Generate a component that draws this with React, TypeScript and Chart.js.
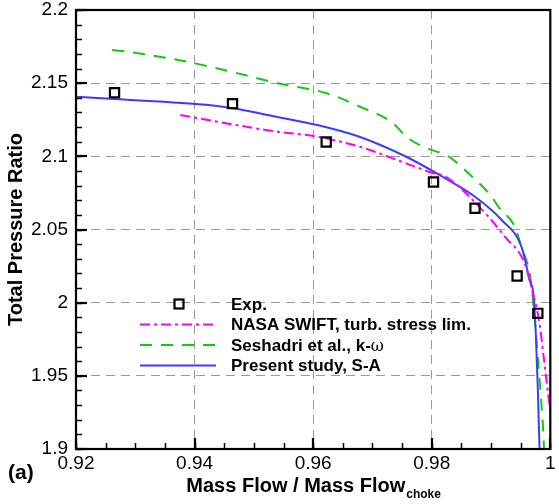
import React, { useEffect, useRef } from "react";
import { Chart, registerables } from "chart.js";

Chart.register(...registerables);

// ---- Data ----
const expX = [0.9265, 0.9464, 0.9622, 0.9803, 0.9873, 0.9944, 0.9979];
const expY = [2.1435, 2.136, 2.1098, 2.0825, 2.0645, 2.0182, 1.9927];

const swiftX = [0.9376, 0.954, 0.96, 0.9678, 0.9757, 0.98, 0.98233, 0.989, 0.99233, 0.99567, 0.99705, 0.99817, 0.999, 0.99955, 1.0002];
const swiftY = [2.1282, 2.1168, 2.1139, 2.1066, 2.0952, 2.0888, 2.0861, 2.0613, 2.0451, 2.0269, 2.0066, 1.9861, 1.9588, 1.9403, 1.92];

const seshX = [0.9261, 0.9295, 0.9395, 0.9462, 0.954, 0.9623, 0.9679, 0.9735, 0.9757, 0.9785, 0.9829, 0.9862, 0.9901, 0.99122, 0.994, 0.99512, 0.99678, 0.99788, 0.99845, 0.9989, 0.999];
const seshY = [2.1727, 2.1711, 2.164, 2.1578, 2.1499, 2.1431, 2.1339, 2.1226, 2.1134, 2.1066, 2.0997, 2.0884, 2.0724, 2.0656, 2.0519, 2.0382, 2.0132, 1.9631, 1.9335, 1.9039, 1.89];

const saX = [0.92, 0.9265, 0.9423, 0.9462, 0.954, 0.9607, 0.9678, 0.9757, 0.9818, 0.9873, 0.9918, 0.9952, 0.9965, 0.9972, 0.9976, 0.9979, 0.99825];
const saY = [2.1408, 2.1392, 2.1351, 2.133, 2.1269, 2.1214, 2.1134, 2.0997, 2.0861, 2.0724, 2.0565, 2.0374, 2.0155, 2.0041, 1.9745, 1.9403, 1.89];

const legendLabels = [
  "Exp.",
  "NASA SWIFT, turb. stress lim.",
  "Seshadri et al., k-",
  "Present study, S-A",
];

const xMin = 0.92, xMax = 1.0, xStep = 0.02, xMinorStep = 0.005;
const yMin = 1.9, yMax = 2.2, yStep = 0.05, yMinorStep = 0.01;

const toPts = (xs: number[], ys: number[]) => xs.map((x, i) => ({ x, y: ys[i] }));

const FONT = "'Liberation Sans', Arial, sans-serif";
const fmt = (v: any) => String(+Number(v).toFixed(4));

const decorPlugin = {
  id: "decor",
  afterDatasetsDraw(chart: any) {
    const { ctx, chartArea: a, scales } = chart;
    const xs = scales.x, ys = scales.y;
    ctx.save();
    ctx.strokeStyle = "#000";
    ctx.setLineDash([]);
    // minor ticks
    ctx.lineWidth = 1.5;
    for (let i = 0; xMin + i * xMinorStep <= xMax + 1e-9; i++) {
      const v = xMin + i * xMinorStep;
      const px = Math.round(xs.getPixelForValue(v)) + 0.5;
      ctx.beginPath(); ctx.moveTo(px, a.bottom); ctx.lineTo(px, a.bottom - 6); ctx.stroke();
    }
    for (let i = 0; yMin + i * yMinorStep <= yMax + 1e-9; i++) {
      const v = yMin + i * yMinorStep;
      const py = Math.round(ys.getPixelForValue(v)) + 0.5;
      ctx.beginPath(); ctx.moveTo(a.left, py); ctx.lineTo(a.left + 6, py); ctx.stroke();
    }
    // major ticks
    ctx.lineWidth = 2.2;
    for (let i = 0; xMin + i * xStep <= xMax + 1e-9; i++) {
      const px = Math.round(xs.getPixelForValue(xMin + i * xStep));
      ctx.beginPath(); ctx.moveTo(px, a.bottom); ctx.lineTo(px, a.bottom - 11); ctx.stroke();
    }
    for (let i = 0; yMin + i * yStep <= yMax + 1e-9; i++) {
      const py = Math.round(ys.getPixelForValue(yMin + i * yStep));
      ctx.beginPath(); ctx.moveTo(a.left, py); ctx.lineTo(a.left + 11, py); ctx.stroke();
    }
    // frame
    ctx.lineWidth = 2.2;
    ctx.strokeRect(a.left, a.top, a.right - a.left, a.bottom - a.top);

    // legend: rows map to datasets Exp, SWIFT, Seshadri, Present
    const ds = chart.data.datasets;
    const rowDs = [0, 1, 3, 2];
    const rowY = [304, 324.5, 345, 365.5];
    const lx0 = 140, lx1 = 216, tx = 231;
    ctx.font = `bold 17px ${FONT}`;
    ctx.textBaseline = "middle";
    ctx.textAlign = "left";
    ctx.fillStyle = "#000";
    const s = 9;
    ctx.lineWidth = ds[0].borderWidth;
    ctx.strokeStyle = ds[0].borderColor;
    ctx.strokeRect(179 - s / 2, rowY[0] - s / 2, s, s);
    for (let k = 1; k < 4; k++) {
      const d = ds[rowDs[k]];
      ctx.strokeStyle = d.borderColor;
      ctx.lineWidth = d.borderWidth;
      ctx.setLineDash(d.borderDash || []);
      ctx.beginPath(); ctx.moveTo(lx0, rowY[k]); ctx.lineTo(lx1, rowY[k]); ctx.stroke();
    }
    ctx.setLineDash([]);
    for (let k = 0; k < 4; k++) {
      ctx.fillText(legendLabels[k], tx, rowY[k] + 1);
    }
    const w = ctx.measureText(legendLabels[2]).width;
    ctx.font = `16px 'DejaVu Serif', 'Liberation Serif', serif`;
    ctx.fillText("\u03c9", tx + w, rowY[2] + 2);

    // axis titles
    ctx.fillStyle = "#000";
    ctx.save();
    ctx.translate(16, (a.top + a.bottom) / 2);
    ctx.rotate(-Math.PI / 2);
    ctx.font = `bold 20px ${FONT}`;
    ctx.textAlign = "center";
    ctx.textBaseline = "middle";
    ctx.fillText("Total Pressure Ratio", 0, 0);
    ctx.restore();

    const main = "Mass Flow / Mass Flow";
    const sub = "choke";
    ctx.textBaseline = "alphabetic";
    ctx.textAlign = "left";
    ctx.font = `bold 20px ${FONT}`;
    const w1 = ctx.measureText(main).width;
    ctx.font = `bold 12px ${FONT}`;
    const w2 = ctx.measureText(sub).width;
    const cx = (a.left + a.right) / 2;
    const start = cx - (w1 + w2) / 2;
    ctx.font = `bold 20px ${FONT}`;
    ctx.fillText(main, start, 491.5);
    ctx.font = `bold 12px ${FONT}`;
    ctx.fillText(sub, start + w1 + 1, 498);

    ctx.font = `bold 21px ${FONT}`;
    ctx.fillText("(a)", 8, 478.5);
    ctx.restore();
  },
};

export default function App() {
  const ref = useRef<HTMLCanvasElement | null>(null);
  useEffect(() => {
    if (!ref.current) return;
    const gridColor = (min: number, max: number) => (c: any) => {
      const v = c.tick ? c.tick.value : NaN;
      if (Math.abs(v - min) < 1e-6 || Math.abs(v - max) < 1e-6) return "rgba(0,0,0,0)";
      return "#9a9a9a";
    };
    const chart = new Chart(ref.current, {
      type: "scatter",
      data: {
        datasets: [
          {
            label: legendLabels[0],
            data: toPts(expX, expY),
            showLine: false,
            pointStyle: "rect",
            pointRadius: 6.5,
            pointHoverRadius: 6.5,
            borderColor: "#000",
            backgroundColor: "rgba(0,0,0,0)",
            borderWidth: 2.2,
          },
          {
            label: legendLabels[1],
            data: toPts(swiftX, swiftY),
            showLine: true,
            pointRadius: 0,
            borderColor: "#ff00ff",
            borderWidth: 2,
            borderDash: [10, 4, 3, 4],
            cubicInterpolationMode: "monotone",
          },
          {
            label: legendLabels[3],
            data: toPts(saX, saY),
            showLine: true,
            pointRadius: 0,
            borderColor: "#3c3cff",
            borderWidth: 2,
            cubicInterpolationMode: "monotone",
          },
          {
            label: legendLabels[2] + "\u03c9",
            data: toPts(seshX, seshY),
            showLine: true,
            pointRadius: 0,
            borderColor: "#14c814",
            borderWidth: 2,
            borderDash: [12, 9],
            cubicInterpolationMode: "monotone",
          },
        ],
      } as any,
      options: {
        animation: false,
        responsive: false,
        layout: { padding: { top: 10, right: 3, left: 0, bottom: 0 } },
        plugins: { legend: { display: false }, tooltip: { enabled: false }, title: { display: false } },
        scales: {
          x: {
            type: "linear",
            min: xMin,
            max: xMax,
            ticks: { stepSize: xStep, color: "#000", font: { family: FONT, size: 19 }, padding: 3, maxRotation: 0, autoSkip: false, callback: fmt },
            grid: { drawTicks: false, color: gridColor(xMin, xMax), lineWidth: 1 },
            border: { display: false, dash: [9, 6] },
            afterFit: (s: any) => { s.height = 55; s.paddingLeft = 0; s.paddingRight = 0; },
          },
          y: {
            type: "linear",
            min: yMin,
            max: yMax,
            ticks: { stepSize: yStep, color: "#000", font: { family: FONT, size: 19 }, padding: 8, autoSkip: false, callback: fmt },
            grid: { drawTicks: false, color: gridColor(yMin, yMax), lineWidth: 1 },
            border: { display: false, dash: [9, 6] },
            afterFit: (s: any) => { s.width = 76; s.paddingTop = 0; s.paddingBottom = 0; },
          },
        },
      } as any,
      plugins: [decorPlugin],
    });
    return () => chart.destroy();
  }, []);
  return (
    <div style={{ position: "fixed", left: 0, top: 0, width: 559, height: 504, background: "#fff" }}>
      <canvas ref={ref} width={559} height={504} style={{ display: "block" }} />
    </div>
  );
}
